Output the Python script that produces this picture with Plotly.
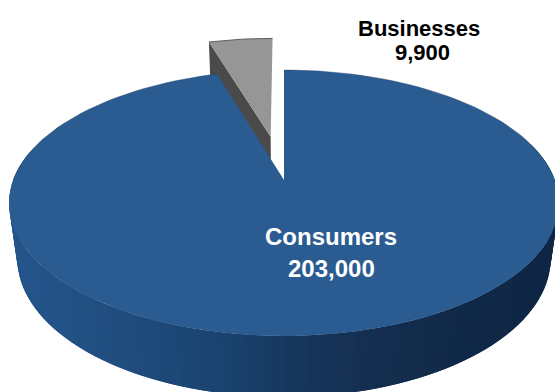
import math
import plotly.graph_objects as go

# Customer counts by segment
categories = ["Consumers", "Businesses"]
values = [203000, 9900]
value_labels = ["203,000", "9,900"]

W, H = 555, 392

# Perspective model of the tilted disc: (u, v) in the pie plane, z is depth down the wall
APEX_X, APEX_Y = 284.0, 180.0
SCALE_X, SCALE_Y = 270.8, 129.0
TILT = 0.173
DROP, SHRINK = 57.0, 0.03
EXPLODE = 0.359


def project(u, v, z=0.0):
    w = 1 - TILT * v + SHRINK * z
    return APEX_X + SCALE_X * u / w, APEX_Y + (SCALE_Y * v + DROP * z) / w


def rim(theta, off=(0.0, 0.0)):
    # theta runs clockwise from twelve o'clock; v grows toward the viewer
    return off[0] + math.sin(theta), off[1] - math.cos(theta)


WALL_STOPS = [(0, (36, 85, 140)), (70, (33, 80, 130)), (130, (30, 74, 122)),
              (200, (26, 67, 112)), (280, (22, 54, 92)), (355, (20, 46, 80)),
              (450, (17, 41, 72)), (555, (14, 38, 68))]


def wall_color(x):
    for (x0, c0), (x1, c1) in zip(WALL_STOPS, WALL_STOPS[1:]):
        if x <= x1:
            t = max(0.0, (x - x0) / (x1 - x0))
            return "rgb(%d,%d,%d)" % tuple(round(a + (b - a) * t) for a, b in zip(c0, c1))
    return "rgb(%d,%d,%d)" % WALL_STOPS[-1][1]


total = sum(values)
consumer_sweep = 2 * math.pi * values[0] / total
business_sweep = 2 * math.pi * values[1] / total

fig = go.Figure()


def poly(pts, fill, width=0.0):
    xs = [p[0] for p in pts] + [pts[0][0]]
    ys = [p[1] for p in pts] + [pts[0][1]]
    fig.add_trace(go.Scatter(
        x=xs, y=ys, mode="lines", fill="toself", fillcolor=fill,
        line=dict(color=fill, width=width), hoverinfo="skip", showlegend=False,
    ))


def stroke(pts, color, width):
    fig.add_trace(go.Scatter(
        x=[p[0] for p in pts], y=[p[1] for p in pts], mode="lines",
        line=dict(color=color, width=width), hoverinfo="skip", showlegend=False,
    ))


# Businesses slice, pulled away from the centre along its bisector
start = consumer_sweep
mid = start + business_sweep / 2
off = (EXPLODE * math.sin(mid), -EXPLODE * math.cos(mid))
steps_b = 12
arc_b = [start + business_sweep * i / steps_b for i in range(steps_b + 1)]

poly([project(*off), project(*rim(start, off)),
      project(*rim(start, off), 1.0), project(*off, 1.0)], "#4a4a4a")
poly([project(*off)] + [project(*rim(t, off)) for t in arc_b], "#969696")
stroke([project(*rim(t, off)) for t in arc_b], "#5f5f5f", 1)

# Consumers wall: each band overlaps the one painted before it so no seams show
steps_c = 160
arc_c = [consumer_sweep * i / steps_c for i in range(steps_c + 1)]
for i in range(1, steps_c + 1):
    t_mid = (arc_c[i - 1] + arc_c[i]) / 2
    if math.cos(t_mid) > 0.25:
        continue  # far side of the rim stays hidden under the top face
    a, b = rim(arc_c[max(i - 2, 0)]), rim(arc_c[i])
    poly([project(*a), project(*b), project(*b, 1.0), project(*a, 1.0)],
         wall_color(project(*b)[0]))

# Consumers top face, with a thin darker edge along the far rim only
poly([(APEX_X, APEX_Y)] + [project(*rim(t)) for t in arc_c], "#2a5c91")
far_rim_right = [project(*rim(t)) for t in arc_c if math.cos(t) > 0 and t < math.pi]
far_rim_left = [project(*rim(t)) for t in arc_c if math.cos(t) > 0 and t > math.pi]
stroke(far_rim_right, "rgba(30,60,100,0.6)", 0.7)
stroke(far_rim_left, "rgba(30,60,100,0.6)", 0.7)


def label(x, y, text, color, size):
    fig.add_annotation(x=x, y=y, text=text, showarrow=False,
                       font=dict(family="Liberation Sans", size=size, color=color, weight="bold"),
                       align="center", xanchor="center", yanchor="middle")


label(330.5, 236, categories[0], "white", 24)
label(331, 268, value_labels[0], "white", 24)
label(419, 28, categories[1], "black", 22)
label(422, 52, value_labels[1], "black", 22)

fig.update_layout(
    width=W, height=H, margin=dict(l=0, r=0, t=0, b=0),
    paper_bgcolor="white", plot_bgcolor="white", showlegend=False,
    xaxis=dict(range=[0, W], visible=False, fixedrange=True),
    yaxis=dict(range=[H, 0], visible=False, fixedrange=True),
    hovermode=False,
)
fig.write_html("out.html", config={"displayModeBar": False})
